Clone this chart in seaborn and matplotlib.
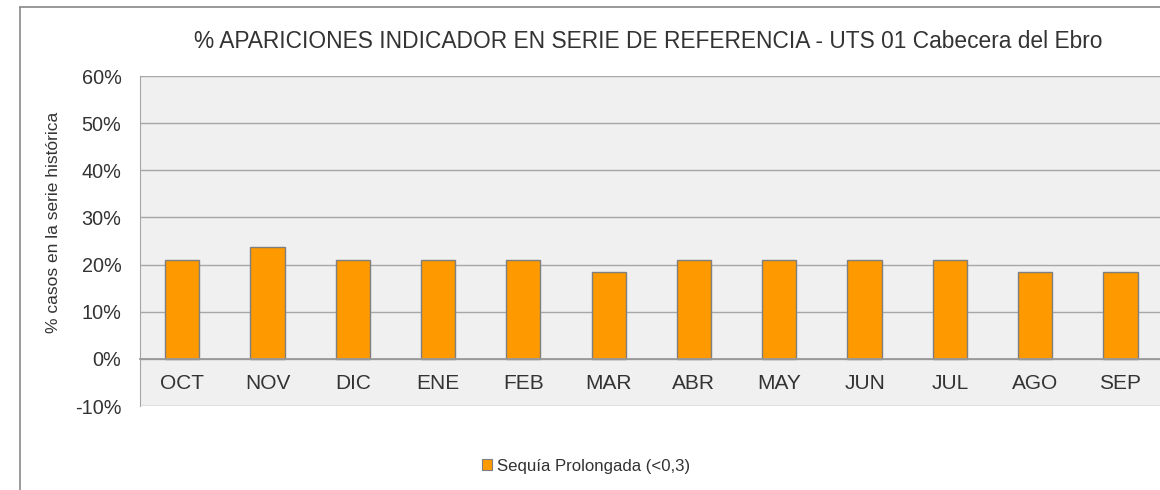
import numpy as np
import pandas as pd
import matplotlib
matplotlib.use("Agg")
import matplotlib.pyplot as plt
import seaborn as sns
from matplotlib.ticker import FuncFormatter
from matplotlib.patches import Patch

months = ["OCT", "NOV", "DIC", "ENE", "FEB", "MAR", "ABR", "MAY", "JUN", "JUL", "AGO", "SEP"]
sequia_prolongada = [21.05, 23.68, 21.05, 21.05, 21.05, 18.42, 21.05, 21.05, 21.05, 21.05, 18.42, 18.42]
y_ticks = [-10, 0, 10, 20, 30, 40, 50, 60]

title = "% APARICIONES INDICADOR EN SERIE DE REFERENCIA - UTS 01 Cabecera del Ebro"
ylabel = "% casos en la serie histórica"
legend_label = "Sequía Prolongada (<0,3)"

sns.set_style("white")
plt.rcParams['font.family'] = ['Liberation Sans', 'DejaVu Sans']
plt.rcParams['axes.unicode_minus'] = False

bar_color = "#ff9900"
edge_color = "#7f7f7f"
grid_color = "#a6a6a6"
text_color = "#333333"

df = pd.DataFrame({"mes": months, "pct": sequia_prolongada})

fig = plt.figure(figsize=(11.6, 4.9), dpi=100)
# outer chart frame (left and top edges visible)
fig.add_artist(plt.Line2D([20 / 1160, 20 / 1160], [0, 1 - 7 / 490], color="#888888", lw=1.2))
fig.add_artist(plt.Line2D([20 / 1160, 1], [1 - 7 / 490, 1 - 7 / 490], color="#888888", lw=1.2))

ax = fig.add_axes([139.5 / 1160, 84 / 490, 1023.6 / 1160, 330 / 490])
ax.set_facecolor("#f0f0f0")

sns.barplot(data=df, x="mes", y="pct", color=bar_color, edgecolor=edge_color,
            linewidth=1.0, width=0.4, saturation=1, ax=ax, zorder=3)

ax.set_ylim(-10, 60)
ax.set_xlim(-0.5, len(months) - 0.5)
ax.set_yticks(y_ticks)
ax.yaxis.set_major_formatter(FuncFormatter(lambda v, p: f"{v:.0f}%"))
ax.grid(axis="y", color=grid_color, lw=1.0, zorder=0)
ax.set_axisbelow(True)

for s in ["top", "right"]:
    ax.spines[s].set_visible(False)
ax.spines["left"].set_color(grid_color)
ax.spines["bottom"].set_position(("data", 0))
ax.spines["bottom"].set_color("#999999")
ax.spines["bottom"].set_linewidth(1.3)
ax.spines["bottom"].set_zorder(4)

ax.set_xticks(np.arange(-0.5, len(months), 1.0), minor=True)
ax.tick_params(axis="x", which="major", length=0, pad=11, labelsize=15, labelcolor=text_color)
ax.tick_params(axis="x", which="minor", length=5, direction="out", color="#999999", width=1)
ax.tick_params(axis="y", length=5, width=1, color=grid_color, pad=8, labelsize=14.3, labelcolor=text_color)

ax.set_xlabel("")
ax.set_ylabel("")
fig.text(54 / 1160, 1 - 222 / 490, ylabel, rotation=90, ha="center", va="center",
         fontsize=12.5, color=text_color)
fig.text(648 / 1160, 1 - 42 / 490, title, ha="center", va="center", fontsize=16.4, color=text_color)

handle = Patch(facecolor=bar_color, edgecolor=edge_color, linewidth=0.8)
fig.legend([handle], [legend_label], loc="center", bbox_to_anchor=(586 / 1160, 1 - 466 / 490),
           frameon=False, fontsize=12.1, handlelength=0.6, handleheight=0.6, handletextpad=0.25,
           labelcolor=text_color)

fig.savefig("out.png", dpi=100)
